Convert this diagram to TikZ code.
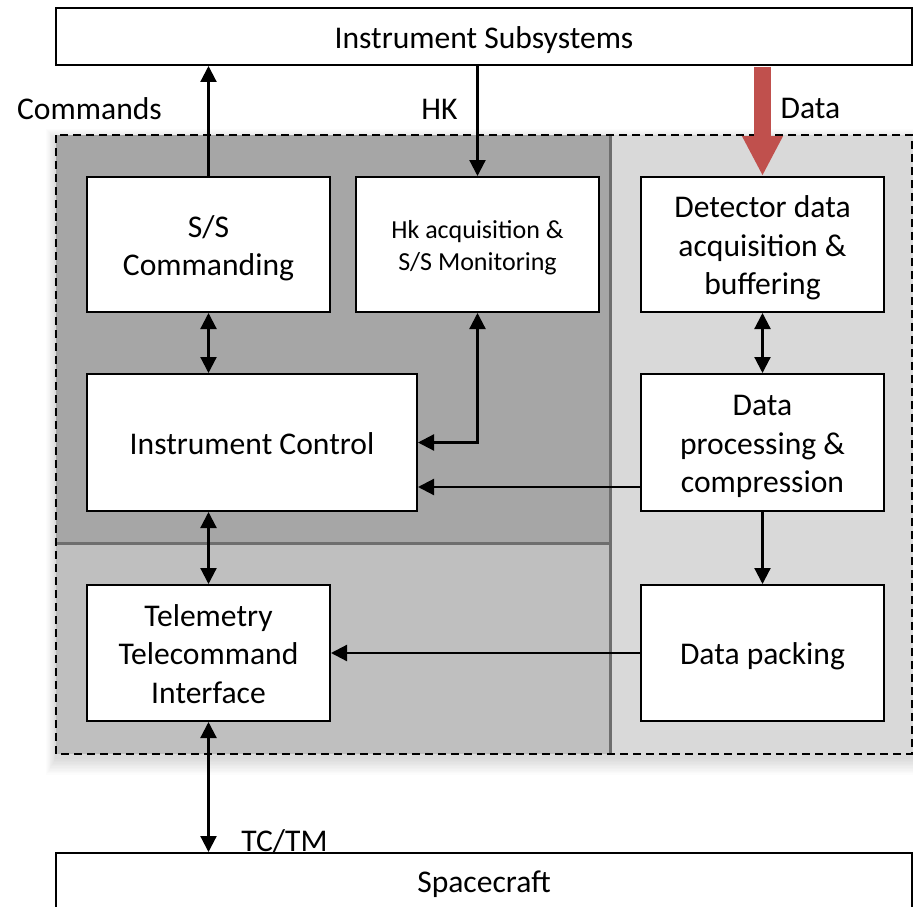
\documentclass[tikz,border=0pt]{standalone}
\usepackage{fontspec}
\setmainfont{Carlito}
\usetikzlibrary{arrows.meta,calc}
\definecolor{darkzone}{HTML}{A6A6A6}
\definecolor{midzone}{HTML}{BFBFBF}
\definecolor{lightzone}{HTML}{D9D9D9}
\definecolor{zoneline}{HTML}{6E6E6E}
\definecolor{datared}{HTML}{C0504D}
\newcommand{\mainsz}{\fontsize{31.6}{38.5}\selectfont}
\newcommand{\smallsz}{\fontsize{26}{32}\selectfont}
\begin{document}
\begin{tikzpicture}[x=1pt,y=-1pt,
  blk/.style={draw=black, line width=2pt, fill=white, inner sep=0pt,
    align=flush center, text width=230pt, font=\mainsz,
    execute at begin node={\rule{0pt}{1.0em}},
    execute at end node={\rule[-0.25em]{0pt}{0pt}}},
  lbl/.style={anchor=base, inner sep=0pt, font=\mainsz},
  arr/.style={line width=2.2pt, -{Triangle[width=16pt,length=16pt]}},
  darr/.style={line width=2.2pt,
    {Triangle[width=16pt,length=16pt]}-{Triangle[width=16pt,length=16pt]}},
  dataflow/.style={line width=17pt, draw=datared,
    -{Triangle[width=38pt,length=40pt]}},
  border/.style={line width=2.2pt, dash pattern=on 8pt off 5pt}]
\useasboundingbox (0,0) rectangle (913,907);

% soft shadow under the processing area
\foreach \i in {1,...,12}
  \fill[black,opacity=0.011] (56-0.8*\i,141-\i) rectangle (912+0.8*\i,758+1.4*\i);

% processing zones
\fill[darkzone] (56,135) rectangle (610,543);
\fill[midzone] (56,543) rectangle (610,754);
\fill[lightzone] (610,135) rectangle (912,754);
\draw[zoneline, line width=3pt] (56,543) -- (610,543);
\draw[zoneline, line width=3pt] (610,135) -- (610,754);
\draw[border] (56,135) rectangle (912,754);

% blocks
\node[blk, text width=840pt, minimum width=856pt, minimum height=57pt] (top) at (484,36.5) {Instrument Subsystems};
\node[blk, minimum width=243pt, minimum height=135pt] (ssc) at (208.5,244.5) {S/S\\Commanding};
\node[blk, minimum width=243pt, minimum height=135pt, font=\smallsz] (hk) at (477.5,244.5) {Hk acquisition \&\\S/S Monitoring};
\node[blk, minimum width=243pt, minimum height=135pt] (det) at (762.5,244.5) {Detector data\\acquisition \&\\buffering};
\node[blk, text width=316pt, minimum width=330pt, minimum height=137pt] (ctrl) at (252,442.5) {Instrument Control};
\node[blk, minimum width=243pt, minimum height=137pt] (proc) at (762.5,442.5) {Data\\processing \&\\compression};
\node[blk, minimum width=243pt, minimum height=136pt] (tm) at (208.5,653) {Telemetry\\Telecommand\\Interface};
\node[blk, minimum width=243pt, minimum height=136pt] (pack) at (762.5,653) {Data packing};
\node[blk, text width=840pt, minimum width=856pt, minimum height=56pt] (sc) at (484,881) {Spacecraft};

% labels
\node[lbl] (lcmd) at (89.5,119) {Commands};
\node[lbl] (lhk) at (439.5,119) {HK};
\node[lbl] (ldata) at (810.5,118) {Data};
\node[lbl] (ltctm) at (284.5,851) {TC/TM};

% connectors
\draw[arr] (ssc.north) -- (ssc.north |- top.south);
\draw[arr] (top.south -| hk.north) -- (hk.north);
\draw[dataflow] ($(top.south -| det.north)+(0,1)$) -- (det.north);
\draw[darr] (ssc.south) -- (ssc.south |- ctrl.north);
\draw[darr] (hk.south) -- (hk.south |- ctrl.east) -- (ctrl.east);
\draw[darr] (det.south) -- (proc.north);
\coordinate (pout) at ($(proc.west)+(0,44.5)$);
\draw[arr] (pout) -- (pout -| ctrl.east);
\draw[arr] (proc.south) -- (pack.north);
\draw[arr] (pack.west) -- (tm.east);
\draw[darr] (ctrl.south -| tm.north) -- (tm.north);
\draw[darr] (tm.south) -- (tm.south |- sc.north);
\end{tikzpicture}
\end{document}
